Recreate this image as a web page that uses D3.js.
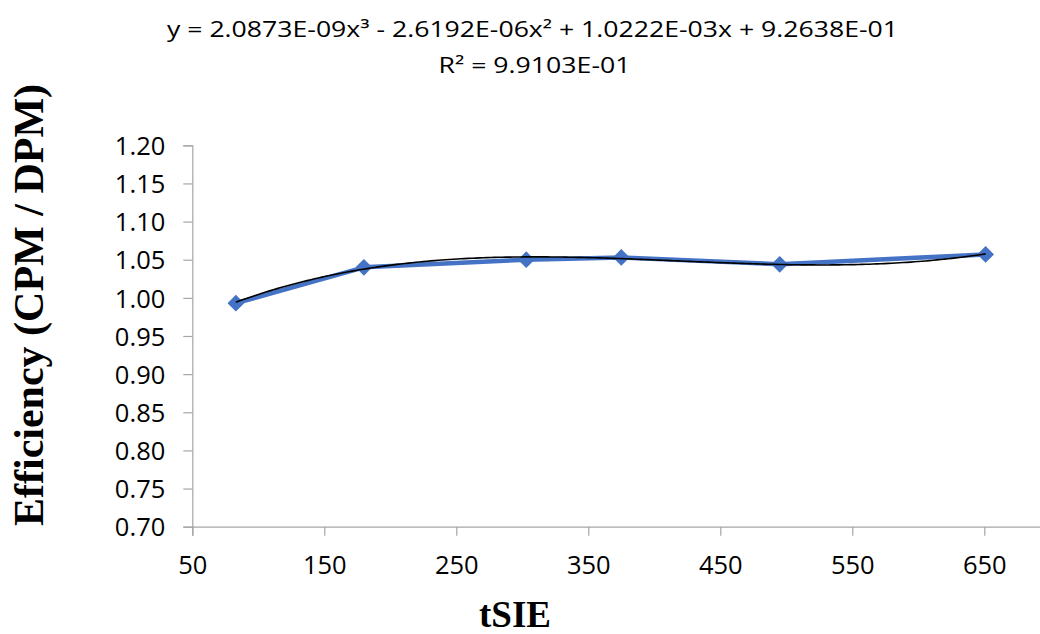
<!DOCTYPE html>
<html>
<head>
<meta charset="utf-8">
<script src="https://cdn.jsdelivr.net/npm/d3@7"></script>
<style>
  html, body { margin: 0; padding: 0; background: #fff; }
  svg { display: block; }
</style>
</head>
<body>
<svg id="chart" width="1040" height="634"></svg>
<script>
// Measured efficiency vs. tSIE
const tsie = [83, 180, 303, 375, 495, 651];
const efficiency = [0.993, 1.040, 1.050, 1.053, 1.044, 1.057];

// Axis ticks
const xTicks = [50, 150, 250, 350, 450, 550, 650];
const yTicks = [0.70, 0.75, 0.80, 0.85, 0.90, 0.95, 1.00, 1.05, 1.10, 1.15, 1.20];

// Cubic trendline coefficients (highest power first) and fit quality
const trendCoef = [2.0873e-09, -2.6192e-06, 1.0222e-03, 9.2638e-01];
const equationText = "y = 2.0873E-09x³ - 2.6192E-06x² + 1.0222E-03x + 9.2638E-01";
const r2Text = "R² = 9.9103E-01";

const svg = d3.select("#chart");
const tickFont = "'Open Sans', 'Noto Sans', sans-serif";
const axisColor = "#a6a6a6";

const x = d3.scaleLinear().domain([50, 700]).range([192.3, 1050.3]);
const y = d3.scaleLinear().domain([0.70, 1.20]).range([526.7, 145.3]);

// Y axis
const yAxis = svg.append("g")
  .attr("transform", `translate(${x(50)},0)`)
  .call(d3.axisLeft(y).tickValues(yTicks).tickFormat(d3.format(".2f")).tickSize(9).tickPadding(18));
yAxis.select(".domain").attr("stroke", axisColor).attr("stroke-width", 1.2);
yAxis.selectAll(".tick line").attr("stroke", axisColor).attr("stroke-width", 1.2);
yAxis.selectAll(".tick text")
  .attr("fill", "#000").attr("font-family", tickFont).attr("font-size", 25.5)
  .attr("dy", "0.36em");

// X axis
const xAxis = svg.append("g")
  .attr("transform", `translate(0,${y(0.70)})`)
  .call(d3.axisBottom(x).tickValues(xTicks).tickFormat(d3.format("d")).tickSize(9).tickPadding(20));
xAxis.select(".domain").attr("stroke", axisColor).attr("stroke-width", 1.2);
xAxis.selectAll(".tick line").attr("stroke", axisColor).attr("stroke-width", 1.2);
xAxis.selectAll(".tick text")
  .attr("fill", "#000").attr("font-family", tickFont).attr("font-size", 25.5)
  .attr("dy", "0.71em");

// Data series line
const pts = tsie.map((t, i) => [t, efficiency[i]]);
svg.append("path")
  .datum(pts)
  .attr("fill", "none")
  .attr("stroke", "#4472c4")
  .attr("stroke-width", 4.5)
  .attr("stroke-linejoin", "round")
  .attr("d", d3.line().x(d => x(d[0])).y(d => y(d[1])));

// Diamond markers
svg.append("g").selectAll("path")
  .data(pts)
  .join("path")
  .attr("d", d3.symbol(d3.symbolSquare, 140))
  .attr("fill", "#4472c4")
  .attr("transform", d => `translate(${x(d[0])},${y(d[1])}) rotate(45)`);

// Polynomial trendline over the data range
const poly = t => trendCoef.reduce((acc, c) => acc * t + c, 0);
const tMin = d3.min(tsie), tMax = d3.max(tsie);
const trendPts = d3.range(0, 201).map(i => {
  const t = tMin + (tMax - tMin) * i / 200;
  return [t, poly(t)];
});
svg.append("path")
  .datum(trendPts)
  .attr("fill", "none")
  .attr("stroke", "#000")
  .attr("stroke-width", 1.6)
  .attr("d", d3.line().x(d => x(d[0])).y(d => y(d[1])));

// Trendline equation and R²
svg.append("text")
  .attr("x", 167).attr("y", 37)
  .attr("font-family", tickFont).attr("font-size", 21.5)
  .attr("textLength", 731).attr("lengthAdjust", "spacingAndGlyphs")
  .attr("fill", "#000")
  .text(equationText);
svg.append("text")
  .attr("x", 438.5).attr("y", 73)
  .attr("font-family", tickFont).attr("font-size", 21.5)
  .attr("textLength", 192).attr("lengthAdjust", "spacingAndGlyphs")
  .attr("fill", "#000")
  .text(r2Text);

// Axis titles
svg.append("text")
  .attr("transform", "translate(43,305) rotate(-90)")
  .attr("text-anchor", "middle")
  .attr("font-family", "'Liberation Serif', 'Times New Roman', serif")
  .attr("font-weight", "bold").attr("font-size", 42)
  .attr("fill", "#000")
  .text("Efficiency (CPM / DPM)");
svg.append("text")
  .attr("x", 515).attr("y", 627)
  .attr("text-anchor", "middle")
  .attr("font-family", "'Liberation Serif', 'Times New Roman', serif")
  .attr("font-weight", "bold").attr("font-size", 37)
  .attr("fill", "#000")
  .text("tSIE");
</script>
</body>
</html>
